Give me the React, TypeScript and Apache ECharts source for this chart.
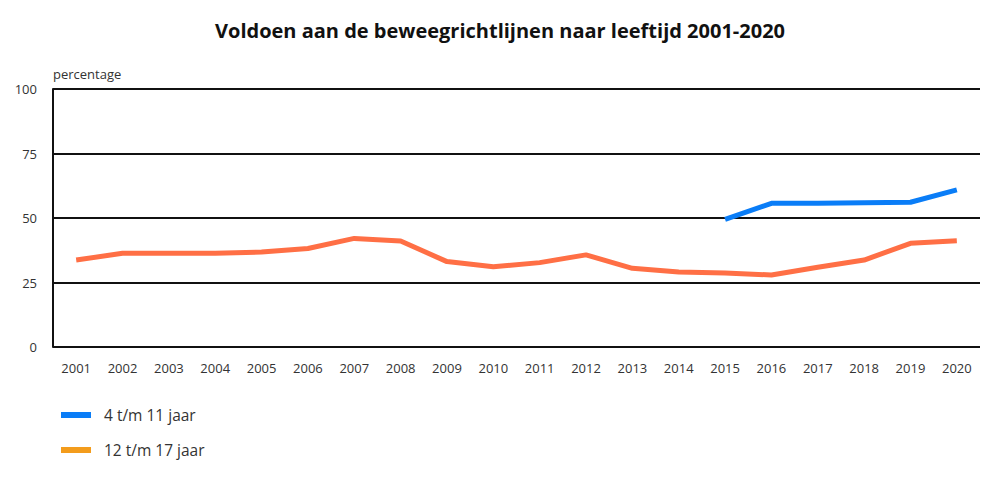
import React, { useEffect, useRef } from 'react';
import * as echarts from 'echarts';

const years = ['2001', '2002', '2003', '2004', '2005', '2006', '2007', '2008', '2009', '2010',
  '2011', '2012', '2013', '2014', '2015', '2016', '2017', '2018', '2019', '2020'];
const kids4to11 = [null, null, null, null, null, null, null, null, null, null,
  null, null, null, null, 49.5, 55.7, 55.7, 55.9, 56.1, 60.9];
const teens12to17 = [33.7, 36.3, 36.3, 36.3, 36.8, 38.2, 42.1, 41.1, 33.1, 31.1,
  32.7, 35.7, 30.5, 29.1, 28.7, 27.9, 30.9, 33.7, 40.2, 41.2];
const yTicks = [0, 25, 50, 75, 100];

const font = '"Open Sans", "Noto Sans", sans-serif';

export default function App() {
  const ref = useRef<HTMLDivElement>(null);
  useEffect(() => {
    document.body.style.margin = '0';
    if (!ref.current) return;
    const chart = echarts.init(ref.current, null, { renderer: 'svg' });
    chart.setOption({
      animation: false,
      textStyle: { fontFamily: font },
      title: {
        text: 'Voldoen aan de beweegrichtlijnen naar leeftijd 2001-2020',
        left: 'center', top: 15,
        textStyle: { fontSize: 20, fontWeight: 'bold', color: '#111', fontFamily: font }
      },
      legend: {
        orient: 'vertical', left: 56, top: 402, itemGap: 19,
        icon: 'rect', itemWidth: 30, itemHeight: 6,
        textStyle: { fontSize: 15.5, color: '#333', padding: [0, 0, 0, 8] },
        data: [
          { name: '4 t/m 11 jaar', itemStyle: { color: '#0a7df7' } },
          { name: '12 t/m 17 jaar', itemStyle: { color: '#f39c1c' } }
        ]
      },
      grid: { left: 53, right: 20, top: 89, bottom: 136 },
      xAxis: {
        type: 'category', data: years, boundaryGap: true,
        axisLine: { show: false },
        axisTick: { show: false },
        axisLabel: { color: '#333', fontSize: 13, margin: 14, interval: 0 }
      },
      yAxis: {
        type: 'value', min: 0, max: 100, interval: 25,
        name: 'percentage', nameLocation: 'end', nameGap: 9,
        nameTextStyle: { color: '#333', fontSize: 13, align: 'left' },
        axisLine: { show: true, lineStyle: { color: '#111', width: 2 } },
        axisTick: { show: false },
        axisLabel: {
          color: '#333', fontSize: 13, margin: 16,
          formatter: (v: number) => (yTicks.includes(v) ? String(v) : '')
        },
        splitLine: { lineStyle: { color: '#111', width: 2 } }
      },
      series: [
        {
          name: '4 t/m 11 jaar', type: 'line', data: kids4to11,
          symbol: 'none', lineStyle: { color: '#0a7df7', width: 5 }, itemStyle: { color: '#0a7df7' }
        },
        {
          name: '12 t/m 17 jaar', type: 'line', data: teens12to17,
          symbol: 'none', lineStyle: { color: '#ff6f45', width: 5 }, itemStyle: { color: '#ff6f45' }
        }
      ]
    });
    const onResize = () => chart.resize();
    window.addEventListener('resize', onResize);
    return () => { window.removeEventListener('resize', onResize); chart.dispose(); };
  }, []);
  return <div ref={ref} style={{ width: '1000px', height: '483px' }} />;
}
